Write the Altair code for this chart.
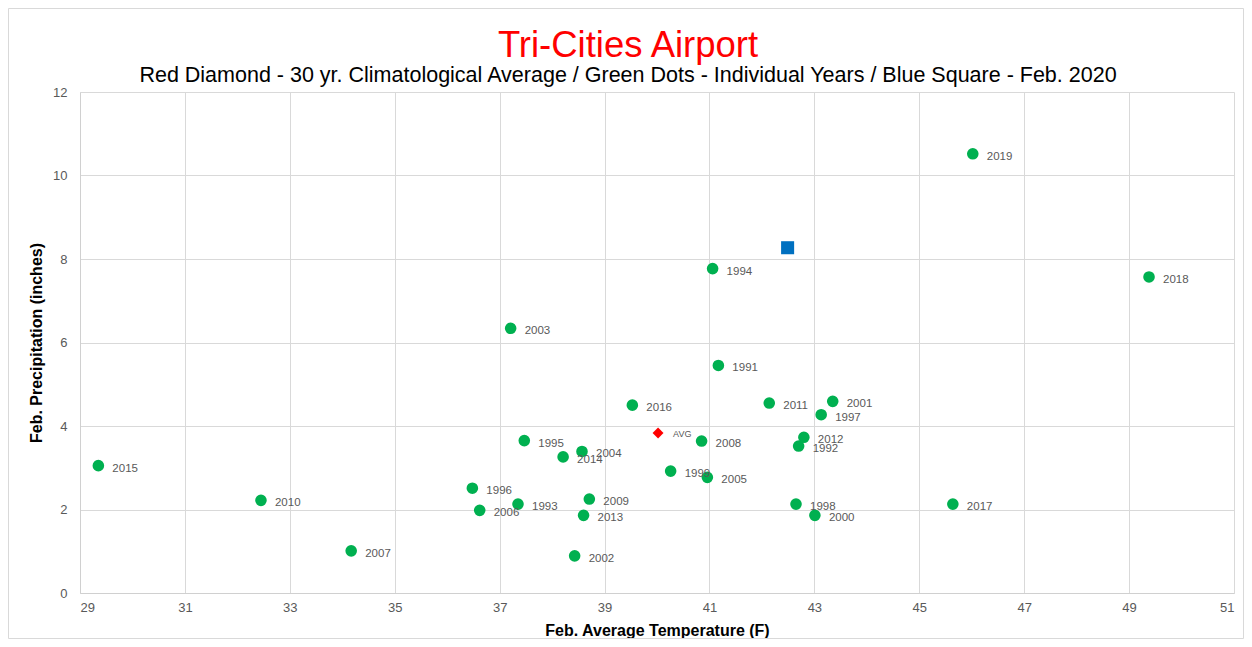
import altair as alt
import pandas as pd

FONT = "Liberation Sans"

# ---- data ----
years = [1991, 1992, 1993, 1994, 1995, 1996, 1997, 1998, 1999, 2000,
         2001, 2002, 2003, 2004, 2005, 2006, 2007, 2008, 2009, 2010,
         2011, 2012, 2013, 2014, 2015, 2016, 2017, 2018, 2019]
temps = [41.17, 42.70, 37.35, 41.06, 37.47, 36.48, 43.13, 42.65, 40.26, 43.01,
         43.35, 38.43, 37.21, 38.57, 40.96, 36.62, 34.17, 40.85, 38.71, 32.45,
         42.14, 42.80, 38.60, 38.21, 29.35, 39.53, 45.64, 49.38, 46.02]
precip = [5.45, 3.52, 2.13, 7.77, 3.65, 2.51, 4.27, 2.13, 2.92, 1.86,
          4.59, 0.89, 6.34, 3.39, 2.77, 1.98, 1.01, 3.64, 2.25, 2.22,
          4.55, 3.73, 1.86, 3.26, 3.05, 4.50, 2.13, 7.57, 10.52]

avg_temp = [40.02]
avg_precip = [3.83]
avg_label = ["AVG"]

cur_temp = [42.49]
cur_precip = [8.27]

x_ticks = [29, 31, 33, 35, 37, 39, 41, 43, 45, 47, 49, 51]
y_ticks = [0, 2, 4, 6, 8, 10, 12]

title_text = ["Tri-Cities Airport"]
subtitle_text = ["Red Diamond - 30 yr. Climatological Average / Green Dots - Individual Years / Blue Square - Feb. 2020"]

df = pd.DataFrame({"year": [str(y) for y in years], "temp": temps, "precip": precip})
df_avg = pd.DataFrame({"temp": avg_temp, "precip": avg_precip, "label": avg_label})
df_cur = pd.DataFrame({"temp": cur_temp, "precip": cur_precip})

W, H = 1154, 501
PAD = {"left": 72, "top": 84, "right": 10, "bottom": 46}
TITLE_X = W / 2 - 29

x = alt.X("temp:Q",
          scale=alt.Scale(domain=[29, 51], nice=False, zero=False),
          axis=alt.Axis(values=x_ticks, title="Feb. Average Temperature (F)"))
y = alt.Y("precip:Q",
          scale=alt.Scale(domain=[0, 12], nice=False),
          axis=alt.Axis(values=y_ticks, title="Feb. Precipitation (inches)"))

border = alt.Chart(pd.DataFrame({"k": [0]})).mark_rect(
    fillOpacity=0, stroke="#d9d9d9", strokeWidth=1
).encode(
    x=alt.value(-PAD["left"] + 0.5), x2=alt.value(W + PAD["right"] - 0.5),
    y=alt.value(-PAD["top"] + 0.5), y2=alt.value(H + PAD["bottom"] - 0.5),
)

title = alt.Chart(pd.DataFrame({"t": title_text})).mark_text(
    align="center", baseline="alphabetic", fontSize=36.5, font=FONT, color="#FF0000"
).encode(x=alt.value(TITLE_X), y=alt.value(-35), text="t:N")

subtitle = alt.Chart(pd.DataFrame({"t": subtitle_text})).mark_text(
    align="center", baseline="alphabetic", fontSize=21.5, font=FONT, color="#000000"
).encode(x=alt.value(TITLE_X), y=alt.value(-10), text="t:N")

points = alt.Chart(df).mark_point(
    shape="circle", filled=True, size=135, color="#00B050", opacity=1
).encode(x=x, y=y)

labels = alt.Chart(df).mark_text(
    align="left", baseline="middle", dx=14, dy=3, fontSize=11.5,
    color="#595959", font=FONT
).encode(x=x, y=y, text="year:N")

avg = alt.Chart(df_avg).mark_point(
    shape="diamond", filled=True, size=120, color="#FF0000", opacity=1
).encode(x=x, y=y)

avg_text = alt.Chart(df_avg).mark_text(
    align="left", baseline="middle", dx=15, dy=1, fontSize=9,
    color="#595959", font=FONT
).encode(x=x, y=y, text="label:N")

cur = alt.Chart(df_cur).mark_point(
    shape="square", filled=True, size=170, color="#0070C0", opacity=1
).encode(x=x, y=y)

chart = alt.layer(border, title, subtitle, points, labels, avg, avg_text, cur).properties(
    width=W, height=H,
    autosize=alt.AutoSizeParams(type="none"),
    padding=PAD,
).configure_view(stroke=None).configure_axis(
    gridColor="#d9d9d9", domainColor="#d0d0d0", ticks=False,
    labelColor="#595959", labelFont=FONT, labelFontSize=13,
    titleFont=FONT, titleFontSize=16, titleFontWeight="bold", titleColor="#000000",
).configure_axisX(labelPadding=8, titlePadding=8).configure_axisY(
    labelPadding=13, titlePadding=8
)

chart.save("out.html", embed_options={"renderer": "svg", "actions": False})
